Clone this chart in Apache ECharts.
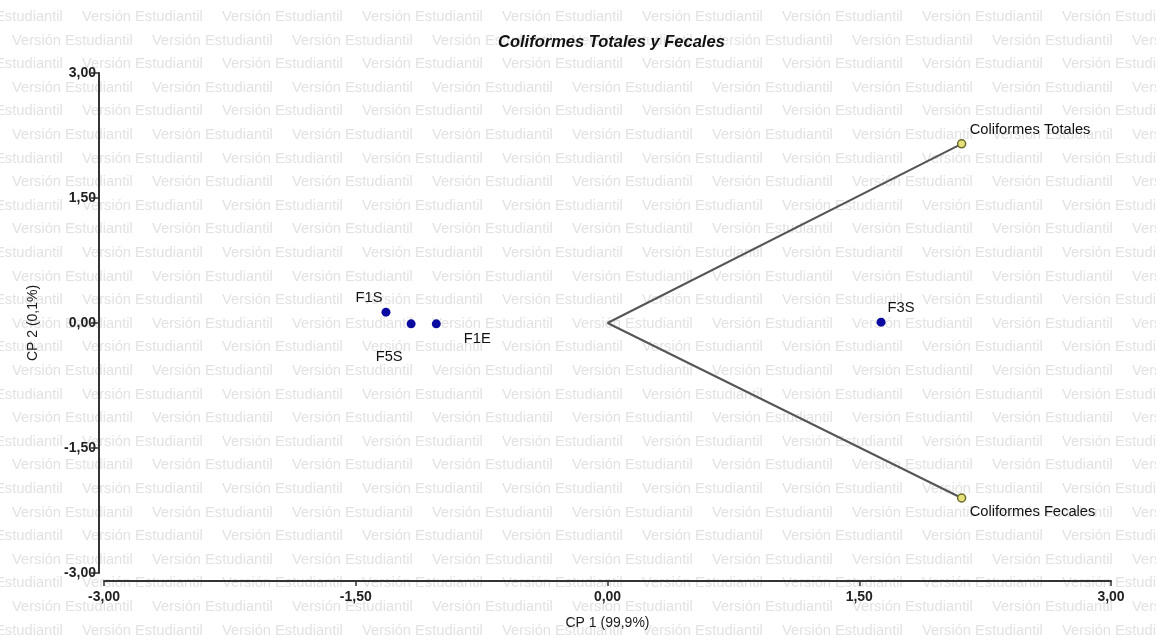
<!DOCTYPE html>
<html>
<head>
<meta charset="utf-8">
<script src="https://cdn.jsdelivr.net/npm/echarts@6/dist/echarts.min.js"></script>
<style>
  html, body { margin: 0; padding: 0; background: #fff; }
  #chart { width: 1156px; height: 643px; }
</style>
</head>
<body>
<div id="chart"></div>
<script>
// observaciones (puntos)
const obsNames = ['F1S', 'F5S', 'F1E', 'F3S']
const obsCp1 = [-1.32, -1.17, -1.02, 1.63]
const obsCp2 = [0.13, -0.01, -0.01, 0.01]
// variables (vectores)
const varNames = ['Coliformes Totales', 'Coliformes Fecales']
const varCp1 = [2.11, 2.11]
const varCp2 = [2.15, -2.10]
// ejes
const axisMin = -3
const axisMax = 3
const axisStep = 1.5

const FONT = '"Liberation Sans", Arial, sans-serif'
const fmt = v => v.toFixed(2).replace('.', ',')

// posiciones de las etiquetas respecto al punto
const obsLabelOffset = {
  F1S: [-17, -14],
  F5S: [-22, 33],
  F1E: [41, 15],
  F3S: [20, -14]
}

// marca de agua "Versión Estudiantil"
const watermark = []
for (let r = 0; r < 27; r++) {
  const y = 17 + r * 23.6
  let x = (r % 2 === 0 ? 82 : 12) - 140
  for (; x < 1156; x += 140) {
    watermark.push({
      type: 'text',
      x: x,
      y: y,
      z: -10,
      silent: true,
      style: {
        text: 'Versión Estudiantil',
        font: '14.7px ' + FONT,
        fill: '#e2e2e2',
        verticalAlign: 'middle'
      }
    })
  }
}

const chart = echarts.init(document.getElementById('chart'))

const vectorSeries = varNames.map((name, i) => ({
  name: name,
  type: 'line',
  z: 3,
  symbol: 'circle',
  symbolSize: 8,
  lineStyle: { color: '#555', width: 2 },
  itemStyle: { color: '#e6e07a', borderColor: '#6a6a2a', borderWidth: 1.5 },
  data: [
    { value: [0, 0], symbol: 'none', label: { show: false } },
    {
      value: [varCp1[i], varCp2[i]],
      label: {
        show: true,
        position: 'inside',
        align: 'left',
        verticalAlign: 'middle',
        offset: [8, varCp2[i] > 0 ? -14 : 14],
        formatter: name,
        color: '#111',
        fontFamily: FONT,
        fontSize: 14.7
      }
    }
  ]
}))

const option = {
  animation: false,
  backgroundColor: '#ffffff',
  title: {
    text: 'Coliformes Totales y Fecales',
    left: 493,
    top: 29,
    textStyle: {
      fontFamily: FONT,
      fontSize: 16.5,
      fontWeight: 'bold',
      fontStyle: 'italic',
      color: '#111'
    }
  },
  graphic: { elements: watermark },
  grid: { left: 104, right: 45, top: 73, bottom: 70 },
  xAxis: {
    type: 'value',
    min: axisMin,
    max: axisMax,
    interval: axisStep,
    offset: 8,
    name: 'CP 1 (99,9%)',
    nameLocation: 'middle',
    nameGap: 35,
    nameTextStyle: { fontFamily: FONT, fontSize: 14, color: '#1a1a1a' },
    axisLine: { show: true, onZero: false, lineStyle: { color: '#333', width: 2 } },
    axisTick: { show: true, length: 5, lineStyle: { color: '#333', width: 1.5 } },
    axisLabel: { margin: 9, fontFamily: FONT, fontSize: 14, fontWeight: 'bold', color: '#222', formatter: fmt },
    splitLine: { show: false }
  },
  yAxis: {
    type: 'value',
    min: axisMin,
    max: axisMax,
    interval: axisStep,
    offset: 5,
    name: 'CP 2 (0,1%)',
    nameLocation: 'middle',
    nameGap: 59,
    nameRotate: 90,
    nameTextStyle: { fontFamily: FONT, fontSize: 14, color: '#1a1a1a' },
    axisLine: { show: true, onZero: false, lineStyle: { color: '#333', width: 2 } },
    axisTick: { show: true, length: 8, lineStyle: { color: '#333', width: 1.5 } },
    axisLabel: { margin: 3, fontFamily: FONT, fontSize: 14, fontWeight: 'bold', color: '#222', formatter: fmt },
    splitLine: { show: false }
  },
  series: [
    ...vectorSeries,
    {
      name: 'Observaciones',
      type: 'scatter',
      z: 4,
      symbolSize: 9,
      itemStyle: { color: '#0a0aa0', opacity: 1 },
      data: obsNames.map((n, i) => ({
        name: n,
        value: [obsCp1[i], obsCp2[i]],
        label: {
          show: true,
          position: 'inside',
          align: 'center',
          verticalAlign: 'middle',
          offset: obsLabelOffset[n],
          formatter: n,
          color: '#111',
          fontFamily: FONT,
          fontSize: 14.7
        }
      }))
    }
  ]
}

chart.setOption(option)
</script>
</body>
</html>
